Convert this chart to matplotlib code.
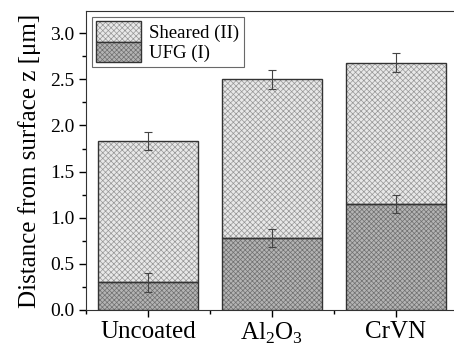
import numpy as np
import matplotlib
matplotlib.use('Agg')
import matplotlib.pyplot as plt
from matplotlib.ticker import MultipleLocator
from matplotlib.legend_handler import HandlerTuple

plt.rcParams['font.family'] = ['Liberation Serif', 'DejaVu Serif']
plt.rcParams['mathtext.fontset'] = 'custom'
plt.rcParams['mathtext.rm'] = 'Liberation Serif'
plt.rcParams['hatch.linewidth'] = 0.5

############# DATA
samples = ['Uncoated', r'Al$_2$O$_3$', 'CrVN']
ufg = [0.30, 0.78, 1.15]            # UFG (I) depth
ufg_err = [0.10, 0.10, 0.10]
total = [1.83, 2.50, 2.68]          # total depth (sheared top)
total_err = [0.10, 0.10, 0.10]

sheared = [t - u for t, u in zip(total, ufg)]
x = np.arange(len(samples))

############# PLOT
fig = plt.figure(figsize=(4.54, 3.52), dpi=100)
ax = fig.add_axes([86/454, 1-310/352, 372/454, 299/352])

# hatched fill (hatch colour = edgecolor), then dark outline on top
h1 = ax.bar(x, ufg, 0.8, color='#b4b4b4', edgecolor='#707070', hatch='xxxxxxx',
            linewidth=0, zorder=2)
h2 = ax.bar(x, sheared, 0.8, bottom=ufg, color='#e8e8e8', edgecolor='#969696',
            hatch='xxxxxx', linewidth=0, zorder=2)
o1 = ax.bar(x, ufg, 0.8, fill=False, edgecolor='#333333', linewidth=1.0, zorder=2.5)
o2 = ax.bar(x, sheared, 0.8, bottom=ufg, fill=False, edgecolor='#333333',
            linewidth=1.0, zorder=2.5)

ax.errorbar(x, ufg, yerr=ufg_err, fmt='none', ecolor='#444444', elinewidth=0.8,
            capsize=3, capthick=0.8, zorder=3)
ax.errorbar(x, total, yerr=total_err, fmt='none', ecolor='#444444', elinewidth=0.8,
            capsize=3, capthick=0.8, zorder=3)

ax.set_xlim(-0.5, 2.5)
ax.set_ylim(0, 3.24)
ax.set_xticks(x)
ax.set_xticklabels(samples, fontsize=18)
ax.xaxis.set_minor_locator(MultipleLocator(1, offset=0.5))
ax.yaxis.set_major_locator(MultipleLocator(0.5))
ax.yaxis.set_minor_locator(MultipleLocator(0.25))
ax.yaxis.set_major_formatter(matplotlib.ticker.FormatStrFormatter('%.1f'))
ax.tick_params(axis='y', labelsize=14)
ax.tick_params(which='major', direction='out', length=5, width=1)
ax.tick_params(which='minor', direction='out', length=3, width=1)
ax.tick_params(axis='x', pad=3)
ax.set_ylabel('Distance from surface z [μm]', fontsize=18, labelpad=6)
for s in ax.spines.values():
    s.set_color('#333333')

leg = ax.legend(handles=[(h2, o2), (h1, o1)], labels=['Sheared (II)', 'UFG (I)'],
                handler_map={tuple: HandlerTuple(ndivide=1, pad=0)},
                loc='upper left', fontsize=13.5, frameon=True,
                fancybox=False, edgecolor='#444444', handlelength=2.4,
                handleheight=1.3, labelspacing=0.0, borderpad=0.25,
                handletextpad=0.4, borderaxespad=0.3)
leg.get_frame().set_linewidth(0.8)

fig.savefig('out.png', dpi=100)
